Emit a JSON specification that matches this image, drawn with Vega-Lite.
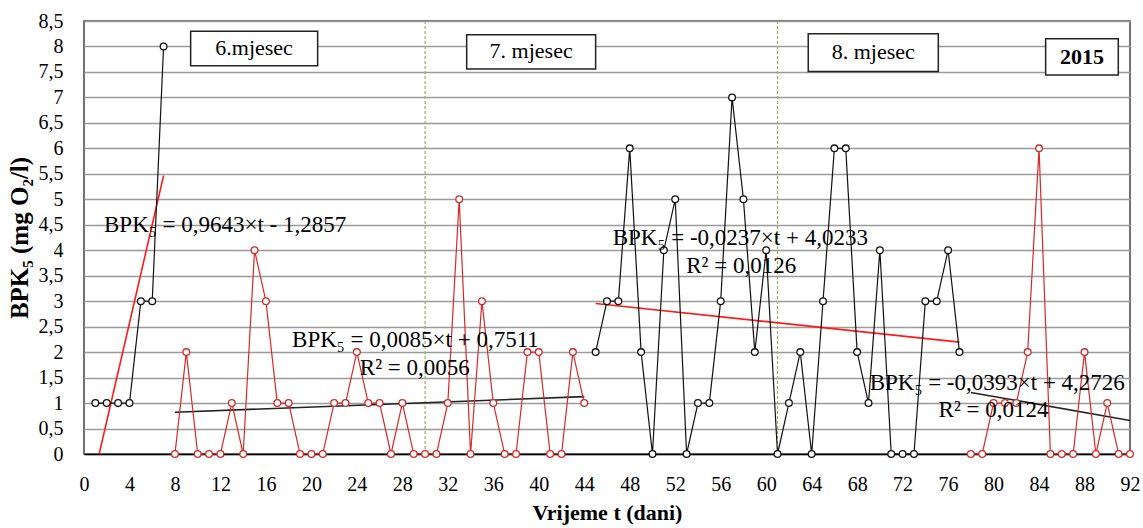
{
  "$schema": "https://vega.github.io/schema/vega-lite/v6.json",
  "width": 1046,
  "height": 433,
  "autosize": "none",
  "padding": {"left": 84, "top": 21, "right": 13, "bottom": 74},
  "background": "white",
  "config": {
    "view": {"stroke": "#444", "strokeWidth": 1.5},
    "font": "Liberation Serif",
    "text": {"font": "Liberation Serif"}
  },
  "data": {"values": [{}]},
  "datasets": {
    "bpk": [
      {"t": 1, "y": 1, "s": 1}, {"t": 2, "y": 1, "s": 1}, {"t": 3, "y": 1, "s": 1}, {"t": 4, "y": 1, "s": 1},
      {"t": 5, "y": 3, "s": 1}, {"t": 6, "y": 3, "s": 1}, {"t": 7, "y": 8, "s": 1},
      {"t": 8, "y": 0, "s": 2}, {"t": 9, "y": 2, "s": 2}, {"t": 10, "y": 0, "s": 2}, {"t": 11, "y": 0, "s": 2},
      {"t": 12, "y": 0, "s": 2}, {"t": 13, "y": 1, "s": 2}, {"t": 14, "y": 0, "s": 2}, {"t": 15, "y": 4, "s": 2},
      {"t": 16, "y": 3, "s": 2}, {"t": 17, "y": 1, "s": 2}, {"t": 18, "y": 1, "s": 2}, {"t": 19, "y": 0, "s": 2},
      {"t": 20, "y": 0, "s": 2}, {"t": 21, "y": 0, "s": 2}, {"t": 22, "y": 1, "s": 2}, {"t": 23, "y": 1, "s": 2},
      {"t": 24, "y": 2, "s": 2}, {"t": 25, "y": 1, "s": 2}, {"t": 26, "y": 1, "s": 2}, {"t": 27, "y": 0, "s": 2},
      {"t": 28, "y": 1, "s": 2}, {"t": 29, "y": 0, "s": 2}, {"t": 30, "y": 0, "s": 2}, {"t": 31, "y": 0, "s": 2},
      {"t": 32, "y": 1, "s": 2}, {"t": 33, "y": 5, "s": 2}, {"t": 34, "y": 0, "s": 2}, {"t": 35, "y": 3, "s": 2},
      {"t": 36, "y": 1, "s": 2}, {"t": 37, "y": 0, "s": 2}, {"t": 38, "y": 0, "s": 2}, {"t": 39, "y": 2, "s": 2},
      {"t": 40, "y": 2, "s": 2}, {"t": 41, "y": 0, "s": 2}, {"t": 42, "y": 0, "s": 2}, {"t": 43, "y": 2, "s": 2},
      {"t": 44, "y": 1, "s": 2},
      {"t": 45, "y": 2, "s": 3}, {"t": 46, "y": 3, "s": 3}, {"t": 47, "y": 3, "s": 3}, {"t": 48, "y": 6, "s": 3},
      {"t": 49, "y": 2, "s": 3}, {"t": 50, "y": 0, "s": 3}, {"t": 51, "y": 4, "s": 3}, {"t": 52, "y": 5, "s": 3},
      {"t": 53, "y": 0, "s": 3}, {"t": 54, "y": 1, "s": 3}, {"t": 55, "y": 1, "s": 3}, {"t": 56, "y": 3, "s": 3},
      {"t": 57, "y": 7, "s": 3}, {"t": 58, "y": 5, "s": 3}, {"t": 59, "y": 2, "s": 3}, {"t": 60, "y": 4, "s": 3},
      {"t": 61, "y": 0, "s": 3}, {"t": 62, "y": 1, "s": 3}, {"t": 63, "y": 2, "s": 3}, {"t": 64, "y": 0, "s": 3},
      {"t": 65, "y": 3, "s": 3}, {"t": 66, "y": 6, "s": 3}, {"t": 67, "y": 6, "s": 3}, {"t": 68, "y": 2, "s": 3},
      {"t": 69, "y": 1, "s": 3}, {"t": 70, "y": 4, "s": 3}, {"t": 71, "y": 0, "s": 3}, {"t": 72, "y": 0, "s": 3},
      {"t": 73, "y": 0, "s": 3}, {"t": 74, "y": 3, "s": 3}, {"t": 75, "y": 3, "s": 3}, {"t": 76, "y": 4, "s": 3},
      {"t": 77, "y": 2, "s": 3},
      {"t": 78, "y": 0, "s": 4}, {"t": 79, "y": 0, "s": 4}, {"t": 80, "y": 1, "s": 4}, {"t": 81, "y": 1, "s": 4},
      {"t": 82, "y": 1, "s": 4}, {"t": 83, "y": 2, "s": 4}, {"t": 84, "y": 6, "s": 4}, {"t": 85, "y": 0, "s": 4},
      {"t": 86, "y": 0, "s": 4}, {"t": 87, "y": 0, "s": 4}, {"t": 88, "y": 2, "s": 4}, {"t": 89, "y": 0, "s": 4},
      {"t": 90, "y": 1, "s": 4}, {"t": 91, "y": 0, "s": 4}, {"t": 92, "y": 0, "s": 4}
    ]
  },
  "encoding": {
    "x": {
      "type": "quantitative",
      "scale": {"domain": [0, 92], "nice": false, "zero": false},
      "axis": {
        "values": [0,4,8,12,16,20,24,28,32,36,40,44,48,52,56,60,64,68,72,76,80,84,88,92],
        "grid": false, "ticks": false, "domainColor": "#000", "domainWidth": 1.5, "labelFlush": false,
        "labelFont": "Liberation Serif", "labelFontSize": 20, "labelColor": "#000", "labelPadding": 20,
        "title": "Vrijeme t (dani)", "titleFont": "Liberation Serif", "titleFontSize": 22,
        "titleFontWeight": "bold", "titleColor": "#000", "titlePadding": 8
      }
    },
    "y": {
      "type": "quantitative",
      "scale": {"domain": [0, 8.5], "nice": false, "zero": true},
      "axis": {
        "values": [0,0.5,1,1.5,2,2.5,3,3.5,4,4.5,5,5.5,6,6.5,7,7.5,8,8.5],
        "labelExpr": "replace(format(datum.value, '~g'), '.', ',')",
        "grid": true, "gridColor": "#9a9a9a", "gridWidth": 1.5, "ticks": false, "domain": false, "labelFlush": false,
        "labelFont": "Liberation Serif", "labelFontSize": 20, "labelColor": "#000", "labelPadding": 21,
        "title": "BPK₅ (mg O₂/l)", "titleFont": "Liberation Serif", "titleFontSize": 25,
        "titleFontWeight": "bold", "titleColor": "#000", "titlePadding": 6
      }
    }
  },
  "layer": [
    {
      "mark": {"type": "rule", "color": "#9bb061", "strokeDash": [3, 2], "strokeWidth": 1.2},
      "encoding": {"x": {"datum": 30}}
    },
    {
      "mark": {"type": "rule", "color": "#9bb061", "strokeDash": [3, 2], "strokeWidth": 1.2},
      "encoding": {"x": {"datum": 61}}
    },
    {
      "data": {"name": "bpk"},
      "transform": [{"regression": "y", "on": "t", "groupby": ["s"]}],
      "mark": {"type": "line", "clip": true, "strokeWidth": 1.6},
      "encoding": {
        "x": {"field": "t", "type": "quantitative"},
        "y": {"field": "y", "type": "quantitative"},
        "color": {"field": "s", "type": "nominal", "legend": null,
          "scale": {"domain": [1, 2, 3, 4], "range": ["#ff1a1a", "#222222", "#ff1a1a", "#222222"]}}
      }
    },
    {
      "data": {"name": "bpk"},
      "mark": {"type": "line", "strokeWidth": 1.2,
        "point": {"filled": false, "fill": "white", "size": 45, "strokeWidth": 1.3}},
      "encoding": {
        "x": {"field": "t", "type": "quantitative"},
        "y": {"field": "y", "type": "quantitative"},
        "color": {"field": "s", "type": "nominal", "legend": null,
          "scale": {"domain": [1, 2, 3, 4], "range": ["#111111", "#d42a2a", "#111111", "#d42a2a"]}}
      }
    },
    {
      "mark": {"type": "rect", "fill": "white", "stroke": "#222", "strokeWidth": 1.5},
      "encoding": {"x": {"datum": 9.38}, "x2": {"datum": 20.55}, "y": {"datum": 8.3}, "y2": {"datum": 7.62}}
    },
    {
      "mark": {"type": "rect", "fill": "white", "stroke": "#222", "strokeWidth": 1.5},
      "encoding": {"x": {"datum": 33.66}, "x2": {"datum": 45.0}, "y": {"datum": 8.23}, "y2": {"datum": 7.56}}
    },
    {
      "mark": {"type": "rect", "fill": "white", "stroke": "#222", "strokeWidth": 1.5},
      "encoding": {"x": {"datum": 63.7}, "x2": {"datum": 75.14}, "y": {"datum": 8.25}, "y2": {"datum": 7.51}}
    },
    {
      "mark": {"type": "rect", "fill": "white", "stroke": "#222", "strokeWidth": 1.5},
      "encoding": {"x": {"datum": 84.58}, "x2": {"datum": 90.97}, "y": {"datum": 8.15}, "y2": {"datum": 7.44}}
    },
    {
      "mark": {"type": "text", "fontSize": 22, "color": "#000", "align": "center", "baseline": "middle"},
      "encoding": {"x": {"datum": 14.96}, "y": {"datum": 7.97}, "text": {"value": "6.mjesec"}}
    },
    {
      "mark": {"type": "text", "fontSize": 22, "color": "#000", "align": "center", "baseline": "middle"},
      "encoding": {"x": {"datum": 39.33}, "y": {"datum": 7.91}, "text": {"value": "7. mjesec"}}
    },
    {
      "mark": {"type": "text", "fontSize": 22, "color": "#000", "align": "center", "baseline": "middle"},
      "encoding": {"x": {"datum": 69.42}, "y": {"datum": 7.89}, "text": {"value": "8. mjesec"}}
    },
    {
      "mark": {"type": "text", "fontSize": 22, "fontWeight": "bold", "color": "#000", "align": "center", "baseline": "middle"},
      "encoding": {"x": {"datum": 87.78}, "y": {"datum": 7.79}, "text": {"value": "2015"}}
    },
    {
      "mark": {"type": "text", "fontSize": 23, "color": "#000", "align": "left", "baseline": "middle"},
      "encoding": {"x": {"datum": 1.76}, "y": {"datum": 4.5}, "text": {"value": "BPK₅ = 0,9643×t - 1,2857"}}
    },
    {
      "mark": {"type": "text", "fontSize": 23, "color": "#000", "align": "left", "baseline": "middle"},
      "encoding": {"x": {"datum": 18.3}, "y": {"datum": 2.24}, "text": {"value": "BPK₅ = 0,0085×t + 0,7511"}}
    },
    {
      "mark": {"type": "text", "fontSize": 23, "color": "#000", "align": "center", "baseline": "middle"},
      "encoding": {"x": {"datum": 29.1}, "y": {"datum": 1.69}, "text": {"value": "R² = 0,0056"}}
    },
    {
      "mark": {"type": "text", "fontSize": 23, "color": "#000", "align": "left", "baseline": "middle"},
      "encoding": {"x": {"datum": 46.5}, "y": {"datum": 4.25}, "text": {"value": "BPK₅ = -0,0237×t + 4,0233"}}
    },
    {
      "mark": {"type": "text", "fontSize": 23, "color": "#000", "align": "center", "baseline": "middle"},
      "encoding": {"x": {"datum": 57.8}, "y": {"datum": 3.69}, "text": {"value": "R² = 0,0126"}}
    },
    {
      "mark": {"type": "text", "fontSize": 23, "color": "#000", "align": "left", "baseline": "middle"},
      "encoding": {"x": {"datum": 69.1}, "y": {"datum": 1.39}, "text": {"value": "BPK₅ = -0,0393×t + 4,2726"}}
    },
    {
      "mark": {"type": "text", "fontSize": 23, "color": "#000", "align": "center", "baseline": "middle"},
      "encoding": {"x": {"datum": 80.0}, "y": {"datum": 0.87}, "text": {"value": "R² = 0,0124"}}
    }
  ],
  "resolve": {"scale": {"color": "independent"}}
}
